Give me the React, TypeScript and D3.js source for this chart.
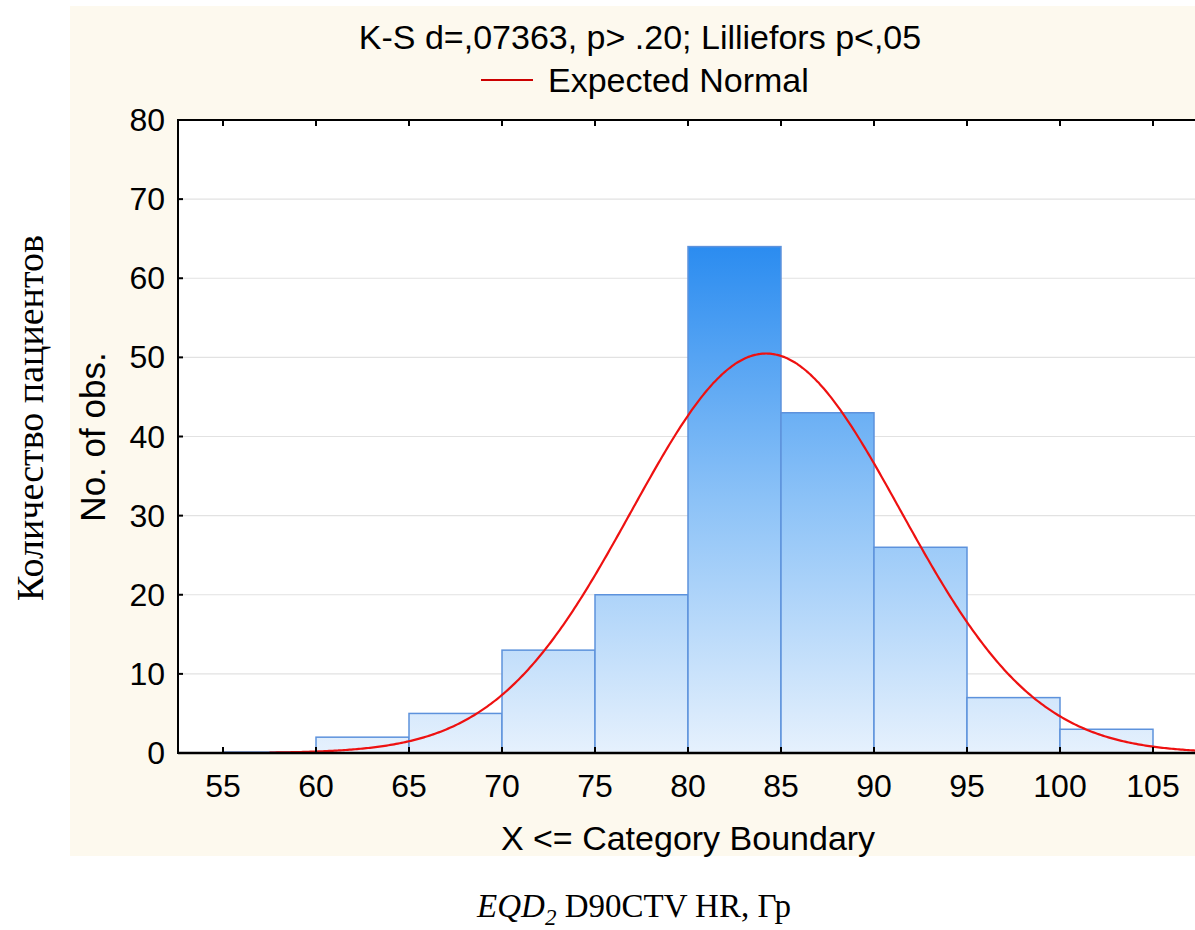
import React from "react";
import * as d3 from "d3";

// ---- data ----
const binStarts = [55, 60, 65, 70, 75, 80, 85, 90, 95, 100];
const binCounts = [0, 2, 5, 13, 20, 64, 43, 26, 7, 3];
const binWidth = 5;
const xTicks = [55, 60, 65, 70, 75, 80, 85, 90, 95, 100, 105];
const yTicks = [0, 10, 20, 30, 40, 50, 60, 70, 80];
const normalMean = 84.2;
const normalSd = 7.23;
const curveStart = 57.5;
const titleText = "K-S d=,07363, p> .20; Lilliefors p<,05";
const legendText = "Expected Normal";
const xAxisTitle = "X <= Category Boundary";
const yAxisTitle = "No. of obs.";
const outerYTitle = "Количество пациентов";

const W = 1195;
const H = 930;
const left = 178;
const top = 120;
const bottom = 753;
const right = 1200;

export default function App() {
  const total = d3.sum(binCounts);
  // 55 -> 223, 105 -> 1153
  const x = d3.scaleLinear().domain([55, 105]).range([223, 1153]);
  const xMax = x.invert(right);
  const y = d3.scaleLinear().domain([0, 80]).range([bottom, top]);

  const pdf = (v: number) =>
    (total * binWidth) / (normalSd * Math.sqrt(2 * Math.PI)) *
    Math.exp(-0.5 * ((v - normalMean) / normalSd) ** 2);
  const pts: [number, number][] = d3
    .range(curveStart, xMax, 0.1)
    .map((v) => [v, pdf(v)]);
  const line = d3
    .line<[number, number]>()
    .x((d) => x(d[0]))
    .y((d) => y(d[1]))
    .curve(d3.curveMonotoneX);

  const font = "'Liberation Sans', Arial, sans-serif";
  const serif = "'Liberation Serif', 'Times New Roman', serif";
  const fs = 32;
  const tfs = 34;
  const maxC = d3.max(binCounts) as number;

  return (
    <svg
      width={W}
      height={H}
      style={{ position: "absolute", left: 0, top: 0, background: "#ffffff" }}
    >
      <defs>
        <linearGradient
          id="barGrad"
          gradientUnits="userSpaceOnUse"
          x1={0}
          x2={0}
          y1={y(maxC)}
          y2={bottom}
        >
          <stop offset="0%" stopColor="#2b8cf0" />
          <stop offset="50%" stopColor="#8cc2f7" />
          <stop offset="100%" stopColor="#e6f1fd" />
        </linearGradient>
        <clipPath id="plotClip">
          <rect x={left} y={top} width={right - left} height={bottom - top} />
        </clipPath>
      </defs>
      <rect x={70} y={6} width={W - 70} height={850} fill="#fdf9ee" />
      <rect x={left} y={top} width={right - left} height={bottom - top} fill="#ffffff" />

      {/* grid */}
      {yTicks.slice(1, -1).map((t) => (
        <line key={"g" + t} x1={left} x2={right} y1={y(t)} y2={y(t)} stroke="#e2e2e2" strokeWidth={1.2} />
      ))}

      {/* bars */}
      <g clipPath="url(#plotClip)">
        {binStarts.map((b, i) =>
          binCounts[i] > 0 ? (
            <rect
              key={"b" + b}
              x={x(b)}
              y={y(binCounts[i])}
              width={x(b + binWidth) - x(b)}
              height={bottom - y(binCounts[i])}
              fill="url(#barGrad)"
              stroke="#5d92dc"
              strokeWidth={1.5}
            />
          ) : (
            <line
              key={"b" + b}
              x1={x(b)}
              x2={x(b + binWidth)}
              y1={bottom}
              y2={bottom}
              stroke="#2f5fc4"
              strokeWidth={3}
            />
          )
        )}
        <path d={line(pts) || ""} fill="none" stroke="#ee1111" strokeWidth={2.2} />
      </g>

      {/* frame */}
      <line x1={left} x2={right} y1={top} y2={top} stroke="#000" strokeWidth={2} />
      <line x1={left} x2={left} y1={top - 1} y2={bottom + 1} stroke="#000" strokeWidth={2} />
      <line x1={left} x2={right} y1={bottom} y2={bottom} stroke="#000" strokeWidth={2.5} />

      {/* ticks */}
      {xTicks.map((t) => (
        <g key={"xt" + t}>
          <line x1={x(t)} x2={x(t)} y1={bottom} y2={bottom - 6} stroke="#000" strokeWidth={2} />
          <line x1={x(t)} x2={x(t)} y1={top} y2={top + 6} stroke="#000" strokeWidth={2} />
          <text
            x={x(t)}
            y={797}
            textAnchor="middle"
            fontFamily={font}
            fontSize={fs}
            fill="#000"
          >
            {t}
          </text>
        </g>
      ))}
      {yTicks.map((t) => (
        <g key={"yt" + t}>
          <line x1={left} x2={left + 5} y1={y(t)} y2={y(t)} stroke="#000" strokeWidth={2} />
          <text
            x={165}
            y={y(t) + 11}
            textAnchor="end"
            fontFamily={font}
            fontSize={fs}
            fill="#000"
          >
            {t}
          </text>
        </g>
      ))}

      {/* titles */}
      <text x={640} y={49} textAnchor="middle" fontFamily={font} fontSize={tfs} fill="#000">
        {titleText}
      </text>
      <line x1={481} x2={533} y1={80} y2={80} stroke="#cc0000" strokeWidth={2} />
      <text x={548} y={92} fontFamily={font} fontSize={tfs} fill="#000">
        {legendText}
      </text>
      <text x={688} y={850} textAnchor="middle" fontFamily={font} fontSize={tfs} fill="#000">
        {xAxisTitle}
      </text>
      <text
        transform={`translate(105, ${437}) rotate(-90)`}
        textAnchor="middle"
        fontFamily={font}
        fontSize={tfs + 1}
        fill="#000"
      >
        {yAxisTitle}
      </text>
      <text
        transform={`translate(43, ${418}) rotate(-90)`}
        textAnchor="middle"
        fontFamily={serif}
        fontSize={38}
        fill="#000"
      >
        {outerYTitle}
      </text>
      <text x={634} y={917} textAnchor="middle" fontFamily={serif} fontSize={33} fill="#000">
        <tspan fontStyle="italic">EQD</tspan>
        <tspan fontSize={23} dy={8} fontStyle="italic">2</tspan>
        <tspan dy={-8}> D90CTV HR, Гр</tspan>
      </text>
    </svg>
  );
}
